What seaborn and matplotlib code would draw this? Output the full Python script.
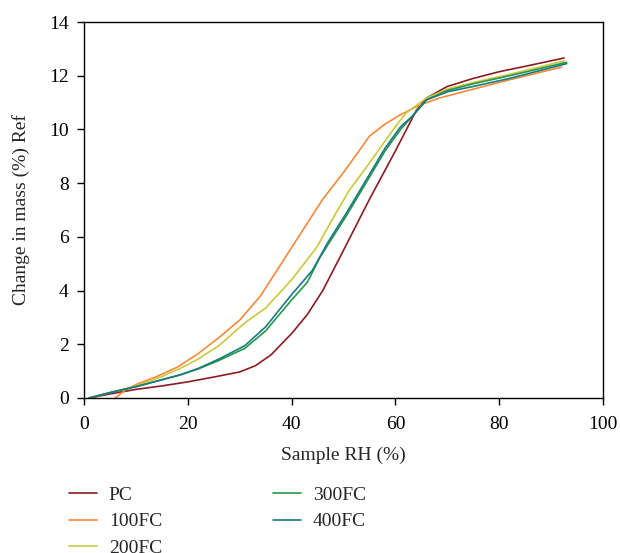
import pandas as pd
import matplotlib
matplotlib.use("Agg")
import matplotlib.pyplot as plt
import seaborn as sns

# Data
pc_x = [1, 5, 10, 15, 20, 25, 30, 33, 36, 40, 43, 46, 50, 55, 60, 64, 66, 70, 75, 80, 85, 92.5]
pc_y = [0, 0.15, 0.32, 0.45, 0.6, 0.78, 0.97, 1.2, 1.6, 2.4, 3.1, 4.0, 5.5, 7.4, 9.2, 10.7, 11.17, 11.6, 11.9, 12.15, 12.35, 12.66]

fc100_x = [6, 8, 10, 14, 18, 22, 26, 30, 34, 37, 40, 43, 46, 50, 53, 55, 58, 61, 64.6, 68.5, 75, 82, 92]
fc100_y = [0, 0.3, 0.5, 0.8, 1.15, 1.65, 2.25, 2.9, 3.8, 4.7, 5.6, 6.5, 7.4, 8.4, 9.2, 9.75, 10.2, 10.55, 10.9, 11.17, 11.5, 11.85, 12.32]

fc200_x = [1, 5, 10, 15, 18.5, 22, 26, 31, 35, 40, 44.8, 48, 51, 55, 57, 60, 62, 66, 70, 75, 82, 92.5]
fc200_y = [0, 0.2, 0.45, 0.8, 1.1, 1.45, 1.95, 2.8, 3.35, 4.4, 5.6, 6.7, 7.7, 8.75, 9.3, 10.1, 10.6, 11.17, 11.5, 11.75, 12.05, 12.55]

fc300_x = [1, 5, 10, 15, 18.5, 22, 26, 31, 35, 40, 43, 45.5, 50.6, 54, 58, 61, 63.3, 66, 70, 75, 82, 93]
fc300_y = [0, 0.2, 0.42, 0.68, 0.86, 1.08, 1.4, 1.85, 2.5, 3.65, 4.3, 5.25, 6.8, 7.9, 9.2, 10.0, 10.5, 11.1, 11.45, 11.7, 12.0, 12.5]

fc400_x = [1, 5, 10, 15, 18.5, 22, 26, 31, 35, 40, 44, 47, 50.6, 54, 58, 61, 63.3, 66, 70, 75, 82, 93]
fc400_y = [0, 0.2, 0.42, 0.68, 0.86, 1.1, 1.45, 1.95, 2.65, 3.85, 4.75, 5.8, 6.9, 8.0, 9.3, 10.1, 10.5, 11.1, 11.4, 11.6, 11.9, 12.45]

names = ["PC", "100FC", "200FC", "300FC", "400FC"]
colors = ["#8a1c22", "#f5893a", "#c9c93c", "#24974c", "#1a7a80"]

series = [(pc_x, pc_y), (fc100_x, fc100_y), (fc200_x, fc200_y), (fc300_x, fc300_y), (fc400_x, fc400_y)]
frames = []
for name, (xs, ys) in zip(names, series):
    frames.append(pd.DataFrame({"RH": xs, "mass": ys, "sample": name}))
df = pd.concat(frames, ignore_index=True)

sns.set_style("ticks")
plt.rcParams["font.family"] = ["Liberation Serif", "DejaVu Serif"]
plt.rcParams["font.size"] = 14

fig = plt.figure(figsize=(6.2, 5.53), dpi=100)
ax = fig.add_axes([0.1355, 0.2803, 0.8371, 0.6799])

sns.lineplot(data=df, x="RH", y="mass", hue="sample", hue_order=names,
             palette=dict(zip(names, colors)), sort=False, estimator=None,
             linewidth=1.2, ax=ax, legend=False)

ax.set_xlim(0, 100)
ax.set_ylim(0, 14)
ax.set_xticks(range(0, 101, 20))
ax.set_yticks(range(0, 15, 2))
ax.set_xlabel("Sample RH (%)", fontsize=14, labelpad=10)
ax.set_ylabel("Change in mass (%) Ref", fontsize=14, labelpad=14)
ax.tick_params(direction="out", length=5, width=1, colors="black", labelsize=14)
ax.tick_params(axis="x", pad=8)
ax.tick_params(axis="y", pad=6)
for s in ax.spines.values():
    s.set_visible(True)
    s.set_color("black")
    s.set_linewidth(1)

handles = [plt.Line2D([], [], color=c, lw=1.2) for c in colors]
fig.legend(handles, names, loc="upper left", bbox_to_anchor=(0.083, 0.152),
           ncol=2, frameon=False, fontsize=14, handlelength=1.45,
           handletextpad=0.6, columnspacing=5.7, labelspacing=0.45)

fig.savefig("out.png", dpi=100)
